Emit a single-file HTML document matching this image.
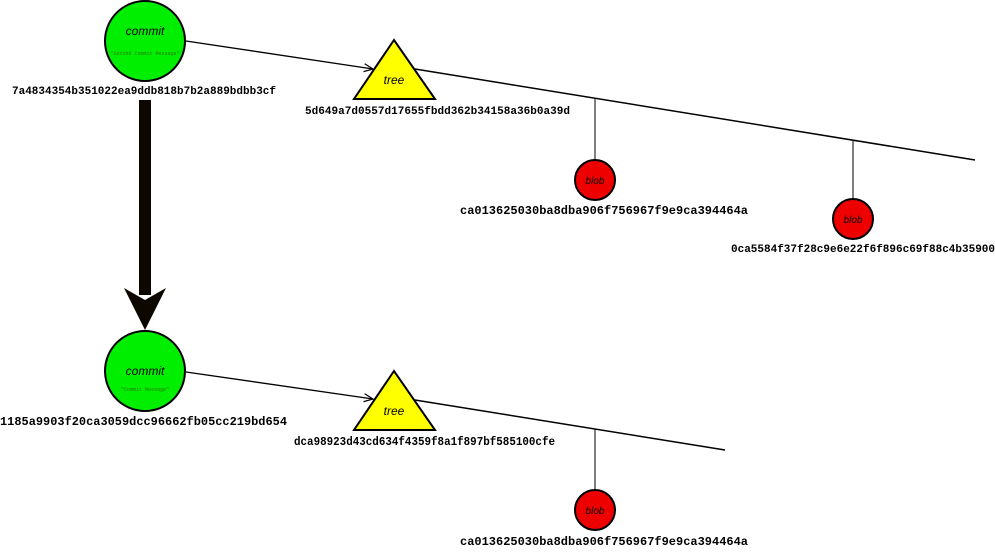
<!DOCTYPE html>
<html><head><meta charset="utf-8"><style>
html,body{margin:0;padding:0;background:#fff;}
svg{display:block}
.h{font-family:"Liberation Mono",monospace;font-weight:bold;font-size:11px;fill:#000}
.w{font-family:"Liberation Mono",monospace;font-weight:bold;font-size:12px;fill:#000}
.t{font-family:"Liberation Sans",sans-serif;font-style:italic;fill:#000}
</style></head><body>
<svg width="995" height="560" viewBox="0 0 995 560" xmlns="http://www.w3.org/2000/svg">
<defs><marker id="a" markerWidth="10" markerHeight="10" refX="9" refY="5" orient="auto" markerUnits="userSpaceOnUse"><path d="M0,1 L9,5 L0,9" fill="none" stroke="#000" stroke-width="1.2"/></marker></defs>
<line x1="186" y1="41" x2="373" y2="69" stroke="#000" stroke-width="1.3" marker-end="url(#a)"/>
<line x1="415" y1="69" x2="975" y2="160" stroke="#000" stroke-width="1.5"/>
<line x1="595" y1="98" x2="595" y2="160" stroke="#000" stroke-width="1"/>
<line x1="853" y1="141" x2="853" y2="199" stroke="#000" stroke-width="1"/>
<circle cx="145" cy="41" r="40" fill="#00ee00" stroke="#000" stroke-width="2"/>
<text x="145" y="35" class="t" font-size="12" text-anchor="middle">commit</text>
<text x="145" y="55" font-family="Liberation Mono,monospace" font-size="5" fill="#2a7a00" text-anchor="middle">"Second Commit Message"</text>
<text x="12" y="94" class="h" textLength="264" lengthAdjust="spacingAndGlyphs">7a4834354b351022ea9ddb818b7b2a889bdbb3cf</text>
<polygon points="394,40 354,99 435,99" fill="#ffff00" stroke="#000" stroke-width="2"/>
<text x="394" y="84" class="t" font-size="12" text-anchor="middle">tree</text>
<text x="305" y="114" class="h" textLength="265" lengthAdjust="spacingAndGlyphs">5d649a7d0557d17655fbdd362b34158a36b0a39d</text>
<circle cx="595" cy="180" r="20" fill="#ee0000" stroke="#000" stroke-width="2"/>
<text x="595" y="184" class="t" font-size="10" text-anchor="middle">blob</text>
<text x="460" y="214" class="w" textLength="288" lengthAdjust="spacingAndGlyphs">ca013625030ba8dba906f756967f9e9ca394464a</text>
<circle cx="853" cy="219" r="20" fill="#ee0000" stroke="#000" stroke-width="2"/>
<text x="853" y="223" class="t" font-size="10" text-anchor="middle">blob</text>
<text x="731" y="252" class="h" textLength="264" lengthAdjust="spacingAndGlyphs">0ca5584f37f28c9e6e22f6f896c69f88c4b35900</text>
<rect x="139" y="100" width="12" height="195" fill="#0c0800"/>
<polygon points="124,288 145,300 166,288 145,330" fill="#0c0800"/>
<line x1="186" y1="372" x2="373" y2="399" stroke="#000" stroke-width="1.3" marker-end="url(#a)"/>
<line x1="415" y1="400" x2="725" y2="450" stroke="#000" stroke-width="1.5"/>
<line x1="595" y1="429" x2="595" y2="490" stroke="#000" stroke-width="1"/>
<circle cx="145" cy="371" r="40" fill="#00ee00" stroke="#000" stroke-width="2"/>
<text x="145" y="375" class="t" font-size="12" text-anchor="middle">commit</text>
<text x="145" y="391" font-family="Liberation Mono,monospace" font-size="5" fill="#2a7a00" text-anchor="middle">"Commit Message"</text>
<text x="0" y="425" class="w" textLength="287" lengthAdjust="spacingAndGlyphs">1185a9903f20ca3059dcc96662fb05cc219bd654</text>
<polygon points="394,371 354,430 435,430" fill="#ffff00" stroke="#000" stroke-width="2"/>
<text x="394" y="415" class="t" font-size="12" text-anchor="middle">tree</text>
<text x="294" y="445" class="w" textLength="261" lengthAdjust="spacingAndGlyphs">dca98923d43cd634f4359f8a1f897bf585100cfe</text>
<circle cx="595" cy="510" r="20" fill="#ee0000" stroke="#000" stroke-width="2"/>
<text x="595" y="514" class="t" font-size="10" text-anchor="middle">blob</text>
<text x="460" y="545" class="w" textLength="288" lengthAdjust="spacingAndGlyphs">ca013625030ba8dba906f756967f9e9ca394464a</text>
</svg>
</body></html>
